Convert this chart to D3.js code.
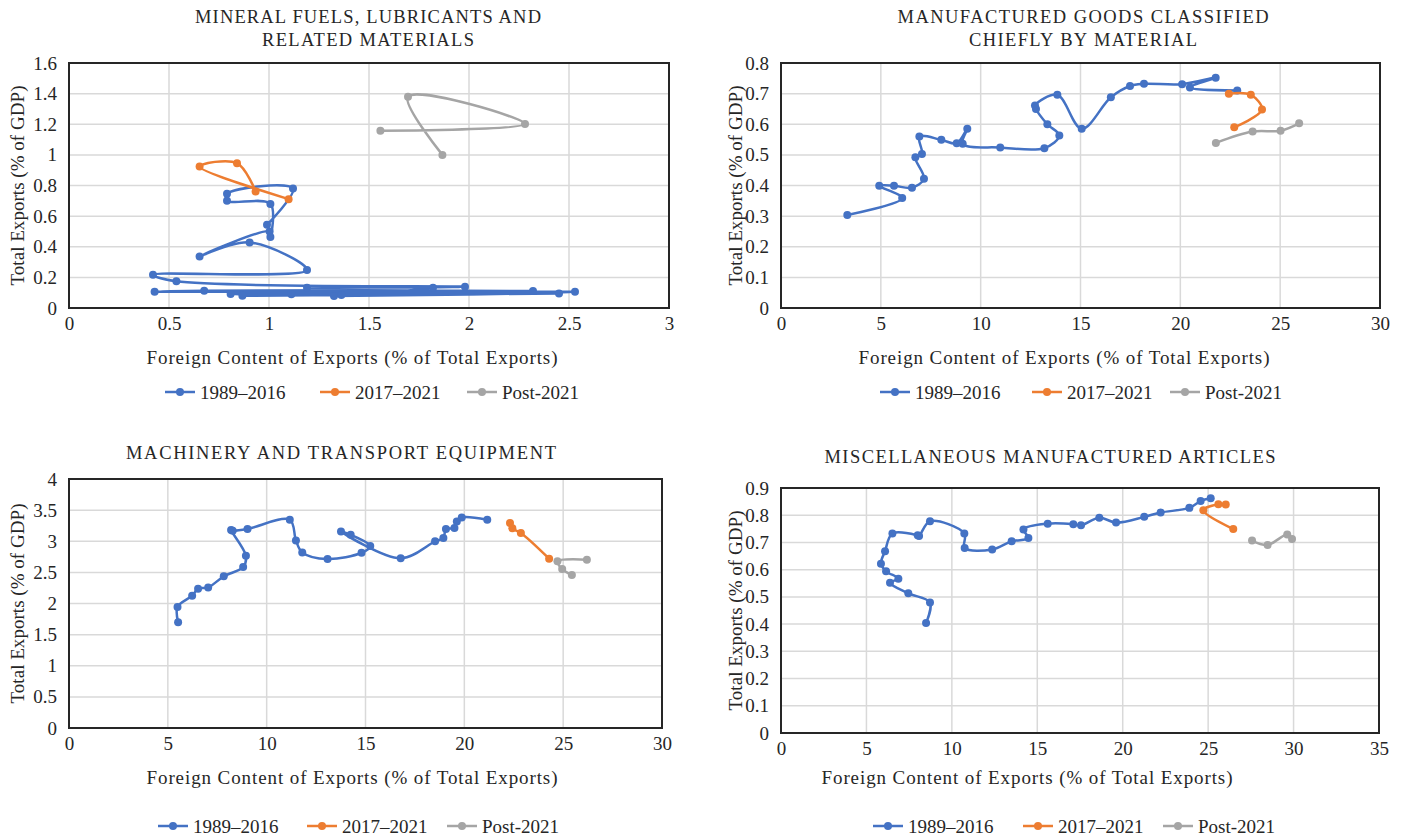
<!DOCTYPE html>
<html>
<head>
<meta charset="utf-8">
<script src="https://cdn.jsdelivr.net/npm/d3@7"></script>
<style>
  html, body { margin: 0; padding: 0; background: #ffffff; }
  svg { display: block; }
  text { font-family: "Liberation Serif", "Times New Roman", serif; fill: #262626; }
</style>
</head>
<body>
<svg id="chart" width="1404" height="840"></svg>
<script>
// ---------------- DATA ----------------
const seriesNames = ["1989–2016", "2017–2021", "Post-2021"];
const seriesColors = ["#4472C4", "#ED7D31", "#A5A5A5"];

const titles = [
  ["MINERAL FUELS, LUBRICANTS AND", "RELATED MATERIALS"],
  ["MANUFACTURED GOODS CLASSIFIED", "CHIEFLY BY MATERIAL"],
  ["MACHINERY AND TRANSPORT EQUIPMENT"],
  ["MISCELLANEOUS MANUFACTURED ARTICLES"]
];
const xAxisTitle = "Foreign Content of Exports (% of Total Exports)";
const yAxisTitle = "Total Exports (% of GDP)";

// x ticks / y ticks for each panel: [max, step]
const xTicks = [[3, 0.5], [30, 5], [30, 5], [35, 5]];
const yTicks = [[1.6, 0.2], [0.8, 0.1], [4, 0.5], [0.9, 0.1]];

// Mineral fuels: [foreign content, total exports]
const fuels1989 = [
  [1.325, 0.078], [2.45, 0.095], [0.867, 0.080], [2.53, 0.106], [0.428, 0.106],
  [0.676, 0.113], [2.32, 0.111], [0.808, 0.091], [1.112, 0.089], [1.362, 0.085],
  [1.82, 0.132], [1.19, 0.132], [1.98, 0.139], [0.537, 0.174], [0.42, 0.217],
  [1.19, 0.248], [0.903, 0.428], [0.653, 0.337], [1.003, 0.500], [1.007, 0.463],
  [1.007, 0.680], [0.79, 0.700], [0.79, 0.746], [1.12, 0.780], [0.99, 0.543]
];
const fuels2017 = [[1.098, 0.711], [0.653, 0.924], [0.84, 0.946], [0.933, 0.761]];
const fuelsPost = [[1.557, 1.157], [2.28, 1.202], [1.695, 1.38], [1.867, 1.0]];

// Manufactured goods
const goods1989 = [
  [3.32, 0.304], [6.07, 0.359], [4.92, 0.399], [5.66, 0.399], [6.56, 0.393],
  [7.16, 0.422], [6.73, 0.492], [7.06, 0.503], [6.93, 0.560], [8.03, 0.549],
  [8.8, 0.538], [9.33, 0.585], [9.1, 0.536], [10.98, 0.524], [13.19, 0.522],
  [13.94, 0.563], [13.34, 0.600], [12.77, 0.650], [12.72, 0.661], [13.84, 0.696],
  [15.06, 0.585], [16.52, 0.688], [17.48, 0.725], [18.18, 0.732], [20.09, 0.731],
  [21.77, 0.752], [20.48, 0.720], [22.85, 0.710]
];
const goods2017 = [[22.43, 0.700], [23.53, 0.696], [24.09, 0.648], [22.7, 0.590]];
const goodsPost = [[21.78, 0.539], [23.62, 0.576], [25.02, 0.579], [25.95, 0.603]];

// Machinery and transport equipment
const machinery1989 = [
  [5.52, 1.70], [5.49, 1.944], [6.23, 2.125], [6.53, 2.238], [7.04, 2.259],
  [7.83, 2.436], [8.81, 2.586], [8.95, 2.768], [8.2, 3.18], [8.28, 3.17],
  [9.03, 3.197], [11.17, 3.346], [11.48, 3.014], [11.8, 2.82], [13.08, 2.715],
  [14.8, 2.815], [15.24, 2.922], [14.25, 3.105], [13.76, 3.158], [16.78, 2.725],
  [18.52, 2.998], [18.94, 3.052], [19.07, 3.197], [19.5, 3.213], [19.62, 3.319],
  [19.87, 3.383], [21.16, 3.346]
];
const machinery2017 = [[22.31, 3.293], [22.43, 3.207], [22.86, 3.133], [24.29, 2.72]];
const machineryPost = [[25.44, 2.458], [24.95, 2.554], [24.71, 2.677], [26.2, 2.704]];

// Miscellaneous manufactured articles
const misc1989 = [
  [8.49, 0.404], [8.72, 0.479], [7.45, 0.513], [6.38, 0.552], [6.87, 0.567],
  [6.15, 0.594], [5.85, 0.622], [6.09, 0.668], [6.52, 0.733], [8.0, 0.726],
  [8.08, 0.724], [8.72, 0.778], [10.73, 0.733], [10.75, 0.680], [12.36, 0.674],
  [13.5, 0.704], [14.48, 0.716], [14.19, 0.748], [15.61, 0.769], [17.11, 0.767],
  [17.56, 0.763], [18.63, 0.791], [19.61, 0.773], [21.26, 0.794], [22.22, 0.810],
  [23.9, 0.827], [24.56, 0.852], [25.15, 0.862]
];
const misc2017 = [[26.03, 0.839], [25.6, 0.840], [24.72, 0.818], [26.47, 0.749]];
const miscPost = [[27.57, 0.707], [28.48, 0.691], [29.63, 0.729], [29.91, 0.713]];

const panelSeries = [
  [fuels1989, fuels2017, fuelsPost],
  [goods1989, goods2017, goodsPost],
  [machinery1989, machinery2017, machineryPost],
  [misc1989, misc2017, miscPost]
];

// ---------------- LAYOUT ----------------
const layouts = [
  { left: 69, right: 669, top: 63, bottom: 308, titleX: 368, titleY: 17, titleW: [346, 212], xTitleX: 352, xTitleY: 357, yTitleX: 17, legendY: 392, legendXs: [165, 320, 467] },
  { left: 781, right: 1380, top: 63, bottom: 308, titleX: 1083, titleY: 17, titleW: [371, 228], xTitleX: 1064, xTitleY: 357, yTitleX: 735, legendY: 392, legendXs: [880, 1032, 1170] },
  { left: 69, right: 662, top: 479, bottom: 728, titleX: 341, titleY: 453, titleW: [430], xTitleX: 352, xTitleY: 777, yTitleX: 17, legendY: 826, legendXs: [158, 307, 447] },
  { left: 781, right: 1379, top: 488, bottom: 733, titleX: 1050, titleY: 457, titleW: [451], xTitleX: 1027, xTitleY: 777, yTitleX: 735, legendY: 826, legendXs: [873, 1023, 1163] }
];

const svg = d3.select("#chart");
const fmt = d => String(+d.toFixed(1));
const line = d3.line().curve(d3.curveCatmullRom.alpha(0.5));

layouts.forEach((L, i) => {
  const g = svg.append("g");
  const [xMax, xStep] = xTicks[i];
  const [yMax, yStep] = yTicks[i];
  const x = d3.scaleLinear().domain([0, xMax]).range([L.left, L.right]);
  const y = d3.scaleLinear().domain([0, yMax]).range([L.bottom, L.top]);
  const xt = d3.range(0, xMax + xStep / 2, xStep);
  const yt = d3.range(0, yMax + yStep / 2, yStep);

  // gridlines
  const grid = g.append("g");
  grid.selectAll("line.v").data(xt).join("line")
    .attr("x1", d => x(d)).attr("x2", d => x(d))
    .attr("y1", L.top).attr("y2", L.bottom)
    .attr("stroke", "#d9d9d9").attr("stroke-width", 1.5);
  grid.selectAll("line.h").data(yt).join("line")
    .attr("x1", L.left).attr("x2", L.right)
    .attr("y1", d => y(d)).attr("y2", d => y(d))
    .attr("stroke", "#d9d9d9").attr("stroke-width", 1.5);

  // axes (labels only)
  const xAxis = d3.axisBottom(x).tickValues(xt).tickFormat(fmt).tickSize(0).tickPadding(9);
  const yAxis = d3.axisLeft(y).tickValues(yt).tickFormat(fmt).tickSize(0).tickPadding(12);
  const gx = g.append("g").attr("transform", `translate(0,${L.bottom})`).call(xAxis);
  const gy = g.append("g").attr("transform", `translate(${L.left},0)`).call(yAxis);
  [gx, gy].forEach(a => {
    a.select(".domain").remove();
    a.selectAll("text").style("font-family", '"Liberation Serif", serif').style("font-size", "19px").attr("fill", "#262626");
  });

  // border
  g.append("rect").attr("x", L.left).attr("y", L.top)
    .attr("width", L.right - L.left).attr("height", L.bottom - L.top)
    .attr("fill", "none").attr("stroke", "#262626").attr("stroke-width", 2);

  // series
  panelSeries[i].forEach((data, s) => {
    g.append("path")
      .attr("d", line(data.map(d => [x(d[0]), y(d[1])])))
      .attr("fill", "none").attr("stroke", seriesColors[s])
      .attr("stroke-width", 2.5).attr("stroke-linejoin", "round");
    g.append("g").selectAll("circle").data(data).join("circle")
      .attr("cx", d => x(d[0])).attr("cy", d => y(d[1])).attr("r", 4)
      .attr("fill", seriesColors[s]);
  });

  // title
  titles[i].forEach((t, k) => {
    g.append("text").attr("x", L.titleX).attr("y", L.titleY + k * 23)
      .attr("text-anchor", "middle").attr("dominant-baseline", "central")
      .attr("textLength", L.titleW[k]).attr("lengthAdjust", "spacing")
      .style("font-size", "18.5px").text(t);
  });

  // axis titles
  g.append("text").attr("x", L.xTitleX).attr("y", L.xTitleY)
    .attr("text-anchor", "middle").attr("dominant-baseline", "central")
    .attr("textLength", 411).attr("lengthAdjust", "spacing")
    .style("font-size", "19px").text(xAxisTitle);
  g.append("text")
    .attr("transform", `translate(${L.yTitleX},${(L.top + L.bottom) / 2}) rotate(-90)`)
    .attr("text-anchor", "middle").attr("dominant-baseline", "central")
    .attr("textLength", 200).attr("lengthAdjust", "spacing")
    .style("font-size", "19px").text(yAxisTitle);

  // legend
  seriesNames.forEach((name, s) => {
    const lx = L.legendXs[s];
    const lg = g.append("g");
    lg.append("line").attr("x1", lx).attr("x2", lx + 30)
      .attr("y1", L.legendY).attr("y2", L.legendY)
      .attr("stroke", seriesColors[s]).attr("stroke-width", 2.5);
    lg.append("circle").attr("cx", lx + 15).attr("cy", L.legendY).attr("r", 4)
      .attr("fill", seriesColors[s]);
    lg.append("text").attr("x", lx + 35).attr("y", L.legendY)
      .attr("dominant-baseline", "central").style("font-size", "19px").text(name);
  });
});
</script>
</body>
</html>
